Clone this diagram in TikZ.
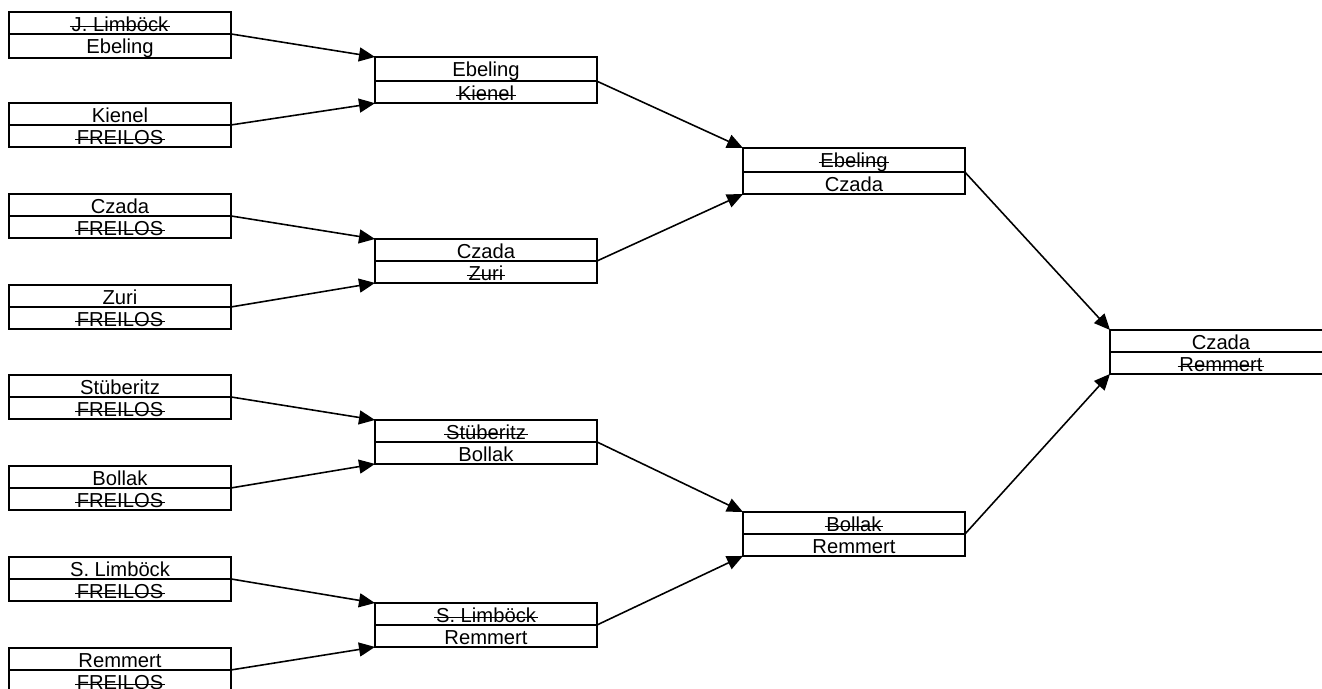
\documentclass[tikz,border=0pt]{standalone}
\usepackage{fontspec}
\setmainfont{Liberation Sans}
\usetikzlibrary{shapes.multipart,arrows.meta}

\newcommand\rowstrut{\rule[-1.1pt]{0pt}{11.4pt}}
\newcommand\lost[1]{\setbox0\hbox{#1}\rlap{\kern-1pt\rule[2.2pt]{\dimexpr\wd0+2pt\relax}{0.6pt}}\box0}

\tikzset{
  pairbox/.style={rectangle split, rectangle split parts=2, draw, line width=1.1pt,
    minimum width=4.44cm, inner xsep=2pt, inner ysep=0pt, outer sep=0pt,
    anchor=north west, font=\fontsize{11.5}{12}\selectfont},
  adv/.style={-{Triangle[length=0.32cm,width=0.28cm]}, line width=0.9pt}
}

\begin{document}
\begin{tikzpicture}

    \useasboundingbox (0,0) rectangle (26.44,-13.78);
    \clip (0,0) rectangle (26.44,-13.78);

    % First round
    \node[pairbox] (a1) at (0.18,-0.24) {\rowstrut\lost{J. Limböck}\nodepart{two}\rowstrut Ebeling};
    \node[pairbox] (a2) at (0.18,-2.06) {\rowstrut Kienel\nodepart{two}\rowstrut\lost{FREILOS}};
    \node[pairbox] (a3) at (0.18,-3.88) {\rowstrut Czada\nodepart{two}\rowstrut\lost{FREILOS}};
    \node[pairbox] (a4) at (0.18,-5.70) {\rowstrut Zuri\nodepart{two}\rowstrut\lost{FREILOS}};
    \node[pairbox] (a5) at (0.18,-7.50) {\rowstrut Stüberitz\nodepart{two}\rowstrut\lost{FREILOS}};
    \node[pairbox] (a6) at (0.18,-9.32) {\rowstrut Bollak\nodepart{two}\rowstrut\lost{FREILOS}};
    \node[pairbox] (a7) at (0.18,-11.14) {\rowstrut S. Limböck\nodepart{two}\rowstrut\lost{FREILOS}};
    \node[pairbox] (a8) at (0.18,-12.96) {\rowstrut Remmert\nodepart{two}\rowstrut\lost{FREILOS}};

    % Second round
    \node[pairbox] (b1) at (7.50,-1.14) {\rowstrut Ebeling\nodepart{two}\rowstrut\lost{Kienel}};
    \node[pairbox] (b2) at (7.50,-4.78) {\rowstrut Czada\nodepart{two}\rowstrut\lost{Zuri}};
    \node[pairbox] (b3) at (7.50,-8.40) {\rowstrut\lost{Stüberitz}\nodepart{two}\rowstrut Bollak};
    \node[pairbox] (b4) at (7.50,-12.06) {\rowstrut\lost{S. Limböck}\nodepart{two}\rowstrut Remmert};

    % Third round
    \node[pairbox] (c1) at (14.86,-2.96) {\rowstrut\lost{Ebeling}\nodepart{two}\rowstrut Czada};
    \node[pairbox] (c2) at (14.86,-10.24) {\rowstrut\lost{Bollak}\nodepart{two}\rowstrut Remmert};

    % Final
    \node[pairbox] (d1) at (22.20,-6.60) {\rowstrut Czada\nodepart{two}\rowstrut\lost{Remmert}};

    % Arrows
    \draw[adv] (a1.text split east) -- (b1.north west);
    \draw[adv] (a2.text split east) -- (b1.south west);
    \draw[adv] (a3.text split east) -- (b2.north west);
    \draw[adv] (a4.text split east) -- (b2.south west);
    \draw[adv] (a5.text split east) -- (b3.north west);
    \draw[adv] (a6.text split east) -- (b3.south west);
    \draw[adv] (a7.text split east) -- (b4.north west);
    \draw[adv] (a8.text split east) -- (b4.south west);

    \draw[adv] (b1.text split east) -- (c1.north west);
    \draw[adv] (b2.text split east) -- (c1.south west);
    \draw[adv] (b3.text split east) -- (c2.north west);
    \draw[adv] (b4.text split east) -- (c2.south west);

    \draw[adv] (c1.text split east) -- (d1.north west);
    \draw[adv] (c2.text split east) -- (d1.south west);

\end{tikzpicture}
\end{document}
